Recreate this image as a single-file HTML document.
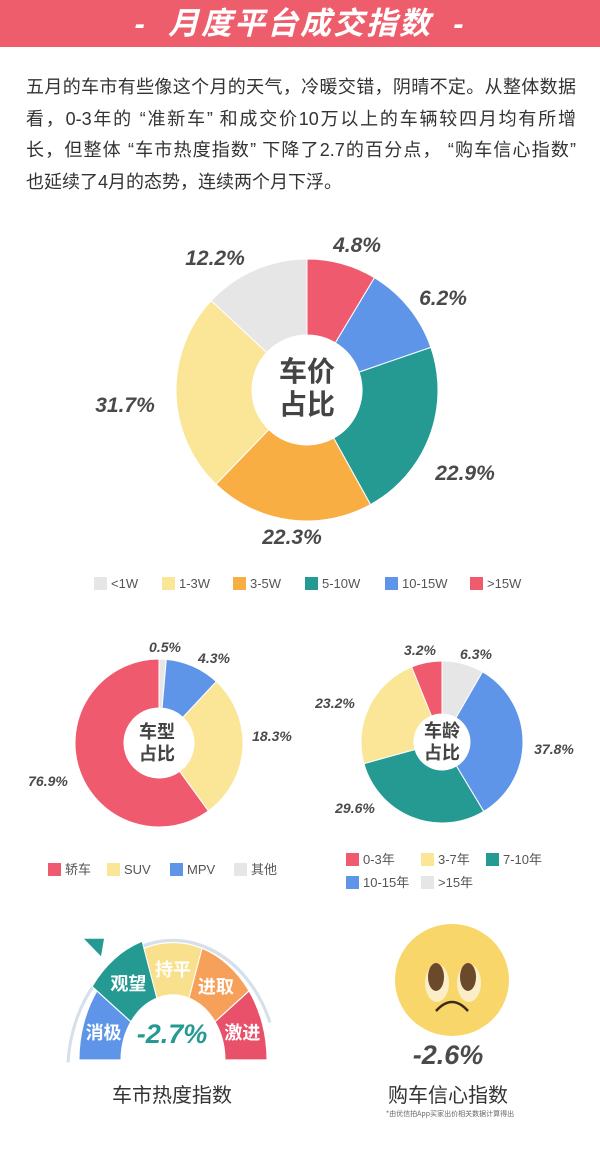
<!DOCTYPE html>
<html><head><meta charset="utf-8">
<style>
html,body{margin:0;padding:0;background:#fff;}
body{width:600px;height:1158px;position:relative;overflow:hidden;font-family:"Liberation Sans","Noto Sans CJK SC",sans-serif;}
.hdr{position:absolute;left:0;top:0;width:600px;height:47px;background:#ee5d6c;color:#fff;font-size:31px;font-weight:bold;font-style:italic;text-align:center;line-height:47px;letter-spacing:2px;}
.p{position:absolute;left:26px;top:72px;width:550px;font-size:18px;color:#333;line-height:31.5px;white-space:nowrap;}
.p div{text-align:justify;text-align-last:justify;}
.p div.l{text-align-last:left;}
.lg{position:absolute;font-size:13px;color:#555;line-height:14px;}
.lg i{display:inline-block;width:13px;height:13px;vertical-align:-2px;margin-right:4px;}
svg{position:absolute;left:0;top:0;}
.pct{font-family:"Liberation Sans",sans-serif;font-weight:bold;font-style:italic;fill:#4a4a4a;}
</style></head><body>
<div class="hdr">-&nbsp; 月度平台成交指数 &nbsp;-</div>
<div class="p"><div>五月的车市有些像这个月的天气，冷暖交错，阴晴不定。从整体数据</div><div>看，0-3年的 “准新车” 和成交价10万以上的车辆较四月均有所增</div><div>长，但整体 “车市热度指数” 下降了2.7的百分点， “购车信心指数”</div><div class="l">也延续了4月的态势，连续两个月下浮。</div></div>

<svg id="s" width="600" height="1158" xmlns="http://www.w3.org/2000/svg">
<g id="g1"></g>
<text class="pct" x="357" y="252" font-size="21" text-anchor="middle">4.8%</text>
<text class="pct" x="443" y="305" font-size="21" text-anchor="middle">6.2%</text>
<text class="pct" x="465" y="480" font-size="21" text-anchor="middle">22.9%</text>
<text class="pct" x="292" y="544" font-size="21" text-anchor="middle">22.3%</text>
<text class="pct" x="125" y="412" font-size="21" text-anchor="middle">31.7%</text>
<text class="pct" x="215" y="265" font-size="21" text-anchor="middle">12.2%</text>
<text x="307" y="381" font-size="28" font-weight="bold" fill="#444" text-anchor="middle" font-family="Noto Sans CJK SC,sans-serif">车价</text>
<text x="307" y="414" font-size="28" font-weight="bold" fill="#444" text-anchor="middle" font-family="Noto Sans CJK SC,sans-serif">占比</text>

<text class="pct" x="165" y="652" font-size="14" text-anchor="middle">0.5%</text>
<text class="pct" x="214" y="663" font-size="14" text-anchor="middle">4.3%</text>
<text class="pct" x="272" y="741" font-size="14" text-anchor="middle">18.3%</text>
<text class="pct" x="48" y="786" font-size="14" text-anchor="middle">76.9%</text>
<text class="pct" x="420" y="655" font-size="14" text-anchor="middle">3.2%</text>
<text class="pct" x="476" y="659" font-size="14" text-anchor="middle">6.3%</text>
<text class="pct" x="335" y="708" font-size="14" text-anchor="middle">23.2%</text>
<text class="pct" x="554" y="754" font-size="14" text-anchor="middle">37.8%</text>
<text class="pct" x="355" y="813" font-size="14" text-anchor="middle">29.6%</text>
<text x="157" y="738" font-size="18" font-weight="bold" fill="#444" text-anchor="middle" font-family="Noto Sans CJK SC,sans-serif">车型</text>
<text x="157" y="760" font-size="18" font-weight="bold" fill="#444" text-anchor="middle" font-family="Noto Sans CJK SC,sans-serif">占比</text>
<text x="442" y="737" font-size="18" font-weight="bold" fill="#444" text-anchor="middle" font-family="Noto Sans CJK SC,sans-serif">车龄</text>
<text x="442" y="759" font-size="18" font-weight="bold" fill="#444" text-anchor="middle" font-family="Noto Sans CJK SC,sans-serif">占比</text>

<g transform="translate(0,1060) scale(1,1.25) translate(0,-1060)">
<path d="M68 1062 A105 105 0 0 1 270 1030" fill="none" stroke="#d6e0ea" stroke-width="3"/>
<polygon points="84,963 104,963 101,977" fill="#259a93"/>
<g id="gg"></g>
</g>
<text x="172" y="1043" font-size="27" font-weight="bold" font-style="italic" fill="#259a93" text-anchor="middle" font-family="Liberation Sans,sans-serif">-2.7%</text>
<text x="172" y="1102" font-size="20" fill="#333" text-anchor="middle" font-family="Noto Sans CJK SC,sans-serif">车市热度指数</text>

<ellipse cx="452" cy="980" rx="57" ry="56" fill="#f9d66a"/>
<ellipse cx="437" cy="983" rx="12" ry="19" fill="#fbeec6"/>
<ellipse cx="469" cy="983" rx="12" ry="19" fill="#fbeec6"/>
<ellipse cx="436" cy="977" rx="8" ry="14" fill="#6b4a2b"/>
<ellipse cx="468" cy="977" rx="8" ry="14" fill="#6b4a2b"/>
<path d="M436 1011 Q452 993 468 1011" fill="none" stroke="#3a2a1a" stroke-width="2.5"/>
<text x="448" y="1064" font-size="27" font-weight="bold" font-style="italic" fill="#4a4a4a" text-anchor="middle" font-family="Liberation Sans,sans-serif">-2.6%</text>
<text x="448" y="1102" font-size="20" fill="#333" text-anchor="middle" font-family="Noto Sans CJK SC,sans-serif">购车信心指数</text>
<text x="450" y="1116" font-size="7" fill="#666" text-anchor="middle" font-family="Noto Sans CJK SC,sans-serif">*由优信拍App买家出价相关数据计算得出</text>
<g id="gt"></g>
</svg>

<div class="lg" style="left:94px;top:577px"><i style="background:#e6e6e6"></i>&lt;1W</div>
<div class="lg" style="left:162px;top:577px"><i style="background:#fbe596"></i>1-3W</div>
<div class="lg" style="left:233px;top:577px"><i style="background:#f8ae42"></i>3-5W</div>
<div class="lg" style="left:305px;top:577px"><i style="background:#259a93"></i>5-10W</div>
<div class="lg" style="left:385px;top:577px"><i style="background:#5e95e8"></i>10-15W</div>
<div class="lg" style="left:470px;top:577px"><i style="background:#f05a6e"></i>&gt;15W</div>

<div class="lg" style="left:48px;top:863px"><i style="background:#f05a6e"></i>轿车</div>
<div class="lg" style="left:107px;top:863px"><i style="background:#fbe596"></i>SUV</div>
<div class="lg" style="left:170px;top:863px"><i style="background:#5e95e8"></i>MPV</div>
<div class="lg" style="left:234px;top:863px"><i style="background:#e6e6e6"></i>其他</div>

<div class="lg" style="left:346px;top:853px"><i style="background:#f05a6e"></i>0-3年</div>
<div class="lg" style="left:421px;top:853px"><i style="background:#fbe596"></i>3-7年</div>
<div class="lg" style="left:486px;top:853px"><i style="background:#259a93"></i>7-10年</div>
<div class="lg" style="left:346px;top:876px"><i style="background:#5e95e8"></i>10-15年</div>
<div class="lg" style="left:421px;top:876px"><i style="background:#e6e6e6"></i>&gt;15年</div>

<script>
var NS="http://www.w3.org/2000/svg";
var g=document.getElementById("g1"), gg=document.getElementById("gg"), gt=document.getElementById("gt");
function pt(cx,cy,r,a){a=(a-90)*Math.PI/180;return [cx+r*Math.cos(a),cy+r*Math.sin(a)];}
function seg(cx,cy,ro,ri,a0,a1,col,parent){
 var p1=pt(cx,cy,ro,a0),p2=pt(cx,cy,ro,a1),p3=pt(cx,cy,ri,a1),p4=pt(cx,cy,ri,a0);
 var l=(a1-a0)>180?1:0;
 var d="M"+p1+" A"+ro+" "+ro+" 0 "+l+" 1 "+p2+" L"+p3+" A"+ri+" "+ri+" 0 "+l+" 0 "+p4+"Z";
 var e=document.createElementNS(NS,"path");e.setAttribute("d",d);e.setAttribute("fill",col);
 e.setAttribute("stroke","#fff");e.setAttribute("stroke-width","1");
 (parent||g).appendChild(e);return e;}
var R="#f05a6e",B="#5e95e8",T="#259a93",O="#f8ae42",Y="#fbe596",G="#e6e6e6";
[[0,31,R],[31,71,B],[71,151,T],[151,224,O],[224,313,Y],[313,360,G]].forEach(function(s){seg(307,390,131,55,s[0],s[1],s[2]);});
[[0,5,G],[5,43,B],[43,144,Y],[144,360,R]].forEach(function(s){seg(159,743,84,35,s[0],s[1],s[2]);});
[[0,30,G],[30,149,B],[149,254.5,T],[254.5,338,Y],[338,360,R]].forEach(function(s){seg(442,742,81,28,s[0],s[1],s[2]);});
var gs=[[-90,-54,B,94,"消极"],[-54,-18,T,100,"观望"],[-18,18,"#f8e08c",94,"持平"],[18,54,"#f7a05a",94,"进取"],[54,90,"#e9506a",94,"激进"]];
gs.forEach(function(s){
 seg(173,1060,s[3],52,s[0],s[1],s[2],gg);
 var m=pt(173,1060,(s[3]+52)/2,(s[0]+s[1])/2);
 var y=1060+(m[1]-1060)*1.25;
 var t=document.createElementNS(NS,"text");t.setAttribute("x",m[0]);t.setAttribute("y",y+7);
 t.setAttribute("text-anchor","middle");t.setAttribute("font-size","18");t.setAttribute("font-weight","bold");
 t.setAttribute("fill","#fff");t.setAttribute("font-family","Noto Sans CJK SC,sans-serif");t.textContent=s[4];gt.appendChild(t);
});
</script>
</body></html>
